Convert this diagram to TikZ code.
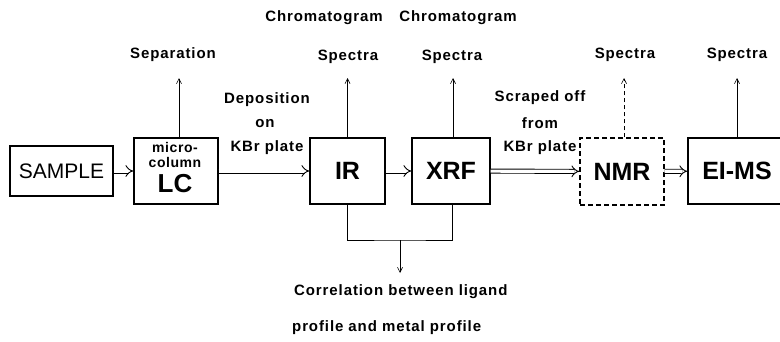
\documentclass[tikz,border=0pt]{standalone}
\usepackage{fontspec}
\setmainfont{Liberation Sans}
\usetikzlibrary{arrows.meta}

\newcommand{\lblfont}{\fontsize{15}{17}\selectfont\bfseries\addfontfeature{LetterSpace=6}}
\newcommand{\smallfont}{\fontsize{14}{15}\selectfont\bfseries\addfontfeature{LetterSpace=4}}
\newcommand{\blkfont}{\fontsize{25}{27}\selectfont\bfseries}

\begin{document}
\begin{tikzpicture}[x=1pt,y=-1pt,
  blk/.style={draw,line width=1.3pt,inner sep=0pt,font=\blkfont},
  lab/.style={inner sep=0pt,font=\lblfont},
  outline/.style={line width=0.6pt},
  outarrow/.style={line width=0.6pt,-{Straight Barb[length=5pt,width=5pt]}},
  feed/.style={double,double distance=3.2pt,line width=0.9pt,-{Implies[length=5pt,width=11pt]}}]
  \useasboundingbox (0,0) rectangle (780,341);

  % instruments
  \node[blk,font=\fontsize{21}{23}\selectfont,minimum width=103,minimum height=50] (sample) at (61.5,171) {SAMPLE};
  \node[blk,minimum width=84,minimum height=66] (lc) at (176,171) {};
  \node[inner sep=0pt,font=\smallfont] (micro) at (175,147) {micro-};
  \node[inner sep=0pt,font=\smallfont] (column) at (175,162) {column};
  \node[inner sep=0pt,font=\fontsize{26}{28}\selectfont\bfseries] (lcname) at (175,184) {LC};
  \node[blk,minimum width=75,minimum height=66] (ir) at (347.5,171) {IR};
  \node[blk,minimum width=78,minimum height=66] (xrf) at (451,171) {XRF};
  \node[blk,dash pattern=on 5pt off 3pt,minimum width=84,minimum height=67] (nmr) at (622,171.5) {NMR};
  \node[blk,minimum width=98,minimum height=66] (eims) at (737,171) {EI-MS};

  % sample flow
  \draw[feed] (sample) -- (lc);
  \draw[feed] (lc) -- (ir);
  \draw[feed] (ir) -- (xrf);
  \draw[feed] (xrf) -- (nmr);
  \draw[feed] (nmr) -- (eims);

  % labels on top
  \node[lab] (sep) at (173,55) {Separation};
  \node[lab] (chrom1) at (324,18) {Chromatogram};
  \node[lab] (spec1) at (348,57) {Spectra};
  \node[lab] (chrom2) at (458,18) {Chromatogram};
  \node[lab] (spec2) at (452,57) {Spectra};
  \node[lab] (spec3) at (625,55) {Spectra};
  \node[lab] (spec4) at (737,55) {Spectra};

  \node[lab] (dep) at (267,100) {Deposition};
  \node[lab] (on) at (265,124) {on};
  \node[lab] (kbr1) at (267,148) {KBr plate};
  \node[lab] (scr) at (540,98) {Scraped off};
  \node[lab] (from) at (540,123) {from};
  \node[lab] (kbr2) at (540,148) {KBr plate};

  % outputs
  \coordinate (tip) at (0,78);
  \draw[outarrow] ([xshift=3]lc.north) -- ([xshift=3]lc.north |- tip);
  \draw[outarrow] (ir.north) -- (ir.north |- tip);
  \draw[outarrow] ([xshift=2]xrf.north) -- ([xshift=2]xrf.north |- tip);
  \draw[outarrow,dash pattern=on 4pt off 3pt] ([xshift=2]nmr.north) -- ([xshift=2]nmr.north |- tip);
  \draw[outarrow] (eims.north) -- (eims.north |- tip);

  % correlation
  \coordinate (join) at (400,240);
  \coordinate (corrtip) at (400,273);
  \draw[outline] (ir.south) |- (join) -| ([xshift=1]xrf.south);
  \draw[outarrow] (join) -- (corrtip);
  \node[lab,anchor=west] (corr) at (294,292) {Correlation between ligand};
  \node[lab,anchor=west] (prof) at (292,328) {profile and metal profile};
\end{tikzpicture}
\end{document}
